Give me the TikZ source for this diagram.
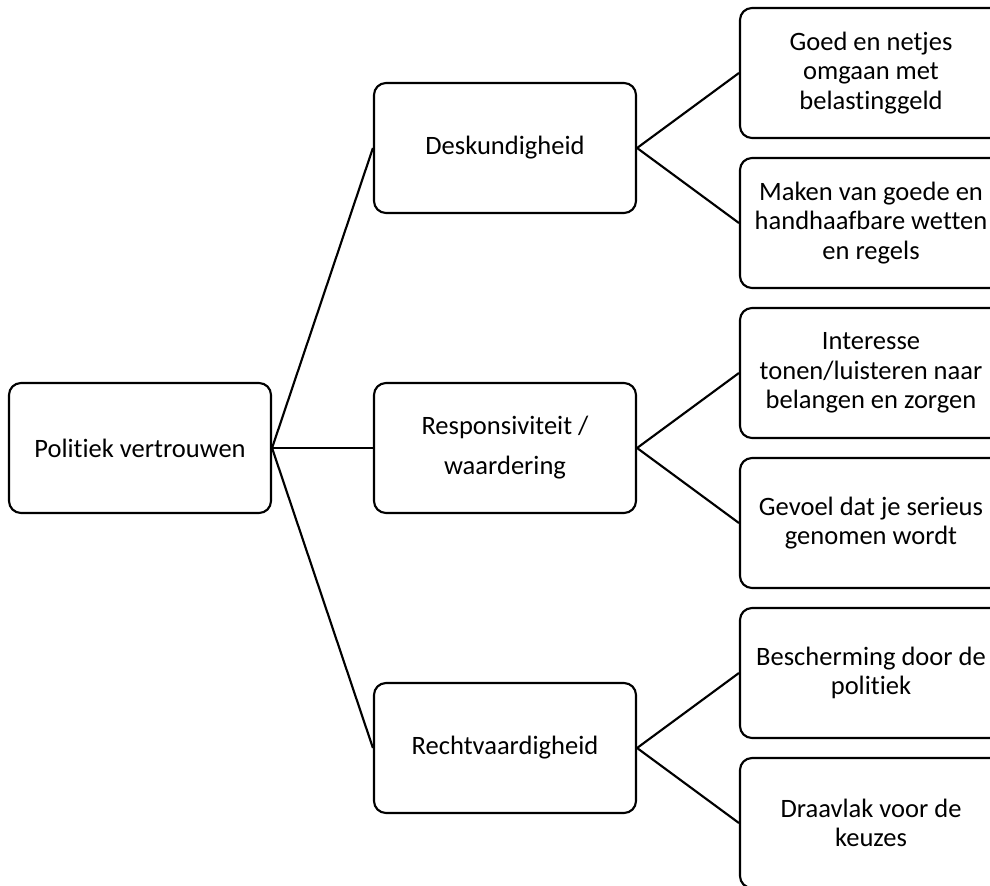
\documentclass[tikz,border=0pt]{standalone}
\usepackage{fontspec}
\setmainfont{Carlito}[Ligatures=NoCommon]
\begin{document}
\begin{tikzpicture}[x=0.75pt,y=-0.75pt,
  box/.style={draw=black,line width=1.6pt,rounded corners=9pt,rectangle,
    minimum width=196.5pt,minimum height=97.5pt,inner sep=0pt,align=center,
    font=\fontsize{19.9pt}{22pt}\selectfont},
  link/.style={draw=black,line width=1.6pt}]
\useasboundingbox (0,0) rectangle (990,886);
\clip (0,0) rectangle (990,886);
\node[box] (root) at (140,448) {Politiek vertrouwen};
\node[box] (desk) at (505,148) {Deskundigheid};
\node[box,font=\fontsize{19.9pt}{30pt}\selectfont] (resp) at (505,448) {Responsiviteit /\\waardering};
\node[box] (recht) at (505,748) {Rechtvaardigheid};
\node[box] (r1) at (871,73) {Goed en netjes\\omgaan met\\belastinggeld};
\node[box] (r2) at (871,223) {Maken van goede en\\handhaafbare wetten\\en regels};
\node[box] (r3) at (871,373) {Interesse\\tonen/luisteren naar\\belangen en zorgen};
\node[box] (r4) at (871,523) {Gevoel dat je serieus\\genomen wordt};
\node[box] (r5) at (871,673) {Bescherming door de\\politiek};
\node[box] (r6) at (871,823) {Draavlak voor de\\keuzes};
\draw[link] (root.east) -- (desk.west);
\draw[link] (root.east) -- (resp.west);
\draw[link] (root.east) -- (recht.west);
\draw[link] (desk.east) -- (r1.west);
\draw[link] (desk.east) -- (r2.west);
\draw[link] (resp.east) -- (r3.west);
\draw[link] (resp.east) -- (r4.west);
\draw[link] (recht.east) -- (r5.west);
\draw[link] (recht.east) -- (r6.west);
\end{tikzpicture}
\end{document}
